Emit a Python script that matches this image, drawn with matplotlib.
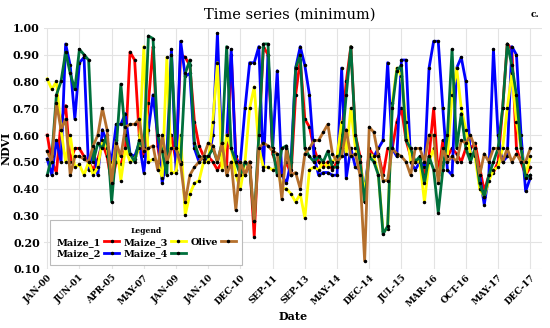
import numpy as np
import matplotlib
matplotlib.use("Agg")
import matplotlib.pyplot as plt

# ── data (one value per acquisition) ──────────────────────────────────────────
tick_labels = ["JAN-00", "JUN-01", "APR-05", "MAY-07", "JAN-09", "JAN-10",
               "DEC-10", "SEP-11", "SEP-13", "MAY-14", "DEC-14", "JUL-15",
               "MAR-16", "OCT-16", "MAY-17", "DEC-17"]

maize_1 = [0.60, 0.50, 0.46, 0.65, 0.71, 0.50, 0.55,
           0.55, 0.52, 0.50, 0.47, 0.51, 0.57, 0.52,
           0.42, 0.50, 0.49, 0.55, 0.91, 0.88, 0.60,
           0.52, 0.72, 0.93, 0.56, 0.45, 0.50, 0.60,
           0.50, 0.90, 0.89, 0.86, 0.65, 0.56, 0.52,
           0.52, 0.50, 0.47, 0.50, 0.48, 0.90, 0.52,
           0.48, 0.45, 0.50, 0.22, 0.60, 0.93, 0.90,
           0.53, 0.48, 0.45, 0.50, 0.45, 0.75, 0.88,
           0.66, 0.63, 0.55, 0.50, 0.48, 0.50, 0.47,
           0.50, 0.60, 0.80, 0.93, 0.60, 0.52, 0.35,
           0.55, 0.52, 0.53, 0.45, 0.55, 0.55, 0.65,
           0.70, 0.58, 0.52, 0.50, 0.51, 0.45, 0.52,
           0.70, 0.45, 0.58, 0.52, 0.55, 0.53, 0.50,
           0.55, 0.55, 0.57, 0.48, 0.39, 0.45, 0.46,
           0.50, 0.70, 0.94, 0.92, 0.55, 0.50, 0.45,
           0.48]

maize_2 = [0.51, 0.45, 0.58, 0.50, 0.94, 0.86, 0.66,
           0.87, 0.89, 0.47, 0.55, 0.45, 0.62, 0.57,
           0.50, 0.64, 0.64, 0.68, 0.53, 0.52, 0.57,
           0.46, 0.62, 0.75, 0.60, 0.42, 0.52, 0.92,
           0.47, 0.95, 0.82, 0.83, 0.55, 0.50, 0.52,
           0.50, 0.60, 0.98, 0.52, 0.58, 0.92, 0.50,
           0.50, 0.70, 0.87, 0.87, 0.93, 0.47, 0.90,
           0.55, 0.84, 0.45, 0.42, 0.50, 0.85, 0.93,
           0.86, 0.75, 0.52, 0.45, 0.46, 0.46, 0.45,
           0.45, 0.85, 0.44, 0.55, 0.48, 0.47, 0.40,
           0.53, 0.52, 0.55, 0.58, 0.87, 0.55, 0.52,
           0.88, 0.88, 0.50, 0.47, 0.50, 0.48, 0.85,
           0.95, 0.95, 0.70, 0.47, 0.45, 0.85, 0.89,
           0.80, 0.52, 0.53, 0.45, 0.34, 0.45, 0.92,
           0.60, 0.50, 0.52, 0.93, 0.90, 0.60, 0.39,
           0.44]

maize_3 = [0.81, 0.77, 0.80, 0.62, 0.50, 0.60, 0.48,
           0.49, 0.45, 0.50, 0.45, 0.48, 0.58, 0.55,
           0.45, 0.58, 0.43, 0.55, 0.50, 0.51, 0.55,
           0.93, 0.50, 0.51, 0.50, 0.44, 0.89, 0.46,
           0.46, 0.60, 0.30, 0.38, 0.42, 0.43, 0.50,
           0.50, 0.65, 0.87, 0.47, 0.60, 0.55, 0.45,
           0.40, 0.50, 0.70, 0.78, 0.55, 0.48, 0.48,
           0.47, 0.48, 0.40, 0.40, 0.38, 0.35, 0.38,
           0.29, 0.47, 0.48, 0.47, 0.50, 0.48, 0.50,
           0.52, 0.65, 0.53, 0.70, 0.55, 0.50, 0.38,
           0.53, 0.52, 0.45, 0.24, 0.25, 0.72, 0.85,
           0.82, 0.65, 0.50, 0.50, 0.50, 0.35, 0.50,
           0.55, 0.45, 0.50, 0.52, 0.75, 0.85, 0.70,
           0.62, 0.53, 0.52, 0.40, 0.37, 0.43, 0.47,
           0.48, 0.55, 0.70, 0.83, 0.65, 0.55, 0.45,
           0.52]

maize_4 = [0.45, 0.52, 0.75, 0.80, 0.91, 0.83, 0.77,
           0.92, 0.90, 0.88, 0.50, 0.57, 0.55, 0.60,
           0.35, 0.55, 0.79, 0.60, 0.53, 0.50, 0.58,
           0.55, 0.97, 0.96, 0.60, 0.54, 0.45, 0.90,
           0.55, 0.50, 0.83, 0.88, 0.57, 0.52, 0.51,
           0.52, 0.55, 0.50, 0.57, 0.93, 0.55, 0.50,
           0.45, 0.50, 0.48, 0.28, 0.60, 0.94, 0.94,
           0.55, 0.45, 0.55, 0.56, 0.47, 0.85, 0.90,
           0.55, 0.52, 0.50, 0.52, 0.50, 0.54, 0.48,
           0.48, 0.55, 0.75, 0.93, 0.60, 0.50, 0.35,
           0.52, 0.50, 0.45, 0.23, 0.26, 0.70, 0.84,
           0.86, 0.58, 0.55, 0.50, 0.52, 0.42, 0.52,
           0.47, 0.31, 0.47, 0.60, 0.92, 0.55, 0.68,
           0.55, 0.50, 0.55, 0.42, 0.37, 0.45, 0.50,
           0.55, 0.70, 0.94, 0.86, 0.75, 0.55, 0.44,
           0.45]

olive = [0.54, 0.50, 0.72, 0.62, 0.66, 0.45, 0.52,
         0.52, 0.51, 0.50, 0.56, 0.60, 0.70, 0.62,
         0.42, 0.57, 0.52, 0.63, 0.64, 0.64, 0.66,
         0.54, 0.55, 0.56, 0.47, 0.60, 0.50, 0.55,
         0.55, 0.49, 0.35, 0.45, 0.48, 0.50, 0.52,
         0.57, 0.56, 0.50, 0.57, 0.45, 0.50, 0.32,
         0.50, 0.45, 0.50, 0.28, 0.55, 0.57, 0.56,
         0.54, 0.53, 0.36, 0.55, 0.45, 0.46, 0.40,
         0.53, 0.55, 0.58, 0.58, 0.61, 0.64, 0.53,
         0.50, 0.52, 0.62, 0.52, 0.53, 0.45, 0.13,
         0.63, 0.61, 0.52, 0.43, 0.43, 0.55, 0.53,
         0.52, 0.50, 0.45, 0.55, 0.55, 0.50, 0.60,
         0.60, 0.42, 0.55, 0.50, 0.52, 0.50, 0.58,
         0.57, 0.60, 0.55, 0.45, 0.53, 0.50, 0.55,
         0.55, 0.50, 0.55, 0.50, 0.53, 0.50, 0.50,
         0.55]

series = [("Maize_1", maize_1, "#ff0000"),
          ("Maize_2", maize_2, "#0000ff"),
          ("Maize_3", maize_3, "#ffff00"),
          ("Maize_4", maize_4, "#00703c"),
          ("Olive", olive, "#b5702d")]

# ── plot ──────────────────────────────────────────────────────────────────────
serif = "DejaVu Serif"
fig = plt.figure(figsize=(5.5, 3.28), dpi=100)
ax = fig.add_axes([0.08, 0.18, 0.905, 0.735])

x = np.arange(len(maize_1))
for name, vals, col in series:
    ax.plot(x, vals, color=col, lw=2.0, marker="o", ms=1.5,
            mfc="black", mec="black", label=name)

ax.set_xlim(-0.7, 107.5)
ax.set_ylim(0.10, 1.00)
ax.set_yticks(np.arange(0.1, 1.001, 0.1))
ax.set_yticklabels([f"{v:.2f}" for v in np.arange(0.1, 1.001, 0.1)],
                   family=serif, fontweight="bold", fontsize=8)
ax.set_xticks(np.arange(0, len(maize_1), 7))
ax.set_xticklabels(tick_labels, rotation=45, ha="right", rotation_mode="anchor",
                   family=serif, fontweight="bold", fontsize=6.5)
ax.tick_params(length=0, pad=3)
ax.grid(color="#e3e3e3", lw=0.8)
ax.set_axisbelow(True)
for s in ax.spines.values():
    s.set_visible(False)

ax.set_xlabel("Date", family=serif, fontweight="bold", fontsize=8, labelpad=2)
ax.set_ylabel("NDVI", family=serif, fontweight="bold", fontsize=8)
ax.yaxis.set_label_coords(-0.065, 0.5)
fig.text(0.527, 0.955, "Time series (minimum)", family=serif, fontsize=10.5,
         ha="center", va="center")
fig.text(0.972, 0.955, "c.", family=serif, fontweight="bold", fontsize=6.5,
         ha="center", va="center")

leg = ax.legend(loc="lower left", bbox_to_anchor=(0.002, -0.005), ncol=3,
                markerfirst=False, title="Legend", fancybox=False,
                edgecolor="#bbbbbb", framealpha=1, handlelength=1.5,
                columnspacing=0.45, handletextpad=0.35, borderpad=0.7,
                labelspacing=0.3,
                prop={"family": serif, "weight": "bold", "size": 7})
leg.get_title().set_fontfamily(serif)
leg.get_title().set_fontweight("bold")
leg.get_title().set_fontsize(5.5)
leg.get_frame().set_linewidth(0.8)

fig.savefig("out.png", dpi=100)
